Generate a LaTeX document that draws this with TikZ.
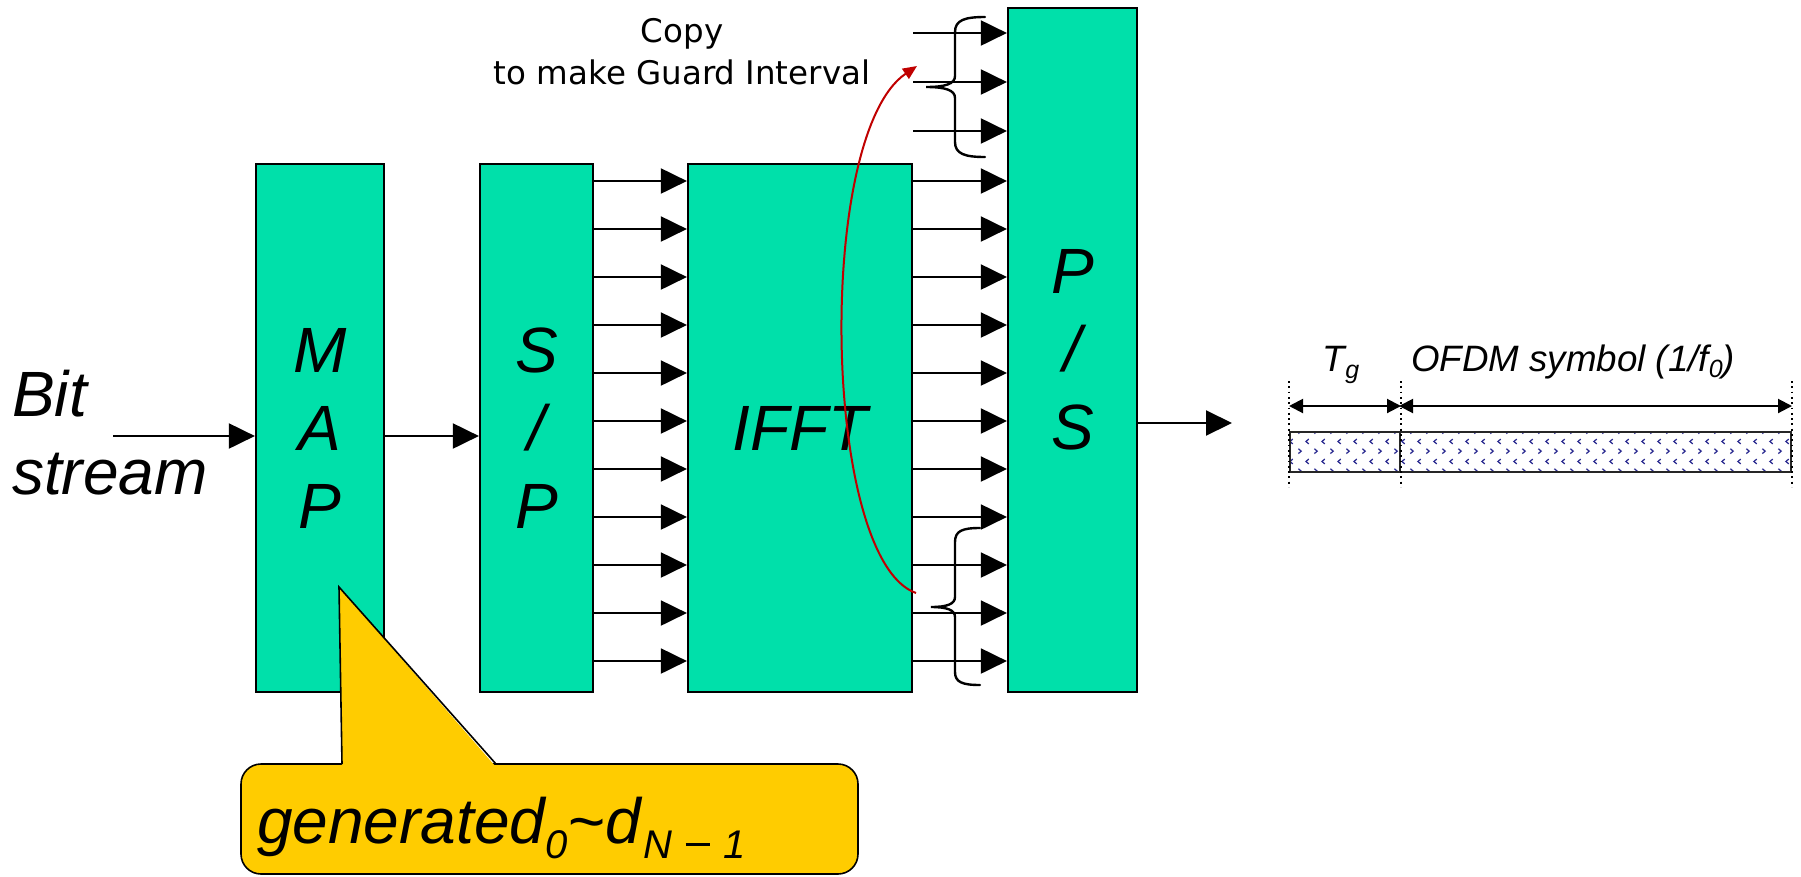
\documentclass[tikz,border=0pt]{standalone}
\usepackage{fontspec}
\setmainfont{Liberation Sans}
\newfontfamily\tahomalike{DejaVu Sans}
\usetikzlibrary{arrows.meta,patterns.meta}
\definecolor{boxgreen}{HTML}{00E0AA}
\definecolor{calloutyellow}{HTML}{FFCC00}
\definecolor{guardred}{HTML}{C00000}
\definecolor{patblue}{HTML}{2B2B90}
\newcommand\mysubA[3]{\raisebox{-#2}{\fontsize{#1}{#1}\selectfont #3}}
\tikzdeclarepattern{
  name=chevrons,
  type=uncolored,
  bounding box={(0pt,0pt) and (16pt,20pt)},
  tile size={(16pt,20pt)},
  code={
    \draw[line width=1.3pt] (2.5pt,2.5pt) -- (5.5pt,5pt) -- (2.5pt,7.5pt);
    \draw[line width=1.3pt] (13.5pt,12.5pt) -- (10.5pt,15pt) -- (13.5pt,17.5pt);
  }
}
\begin{document}
\begin{tikzpicture}[x=1pt,y=-1pt,
  block/.style={draw=black, line width=2.2pt, fill=boxgreen, inner sep=0pt,
    font=\fontsize{64}{78}\selectfont\itshape, align=center},
  arr/.style={line width=2pt, -{Triangle[length=26pt,width=25pt]}},
  bracestyle/.style={line width=2.4pt, line cap=round},
  guard/.style={draw=guardred, line width=2pt, -{Triangle[length=14pt,width=12pt]}},
  tbox/.style={draw=black!85, line width=2pt, pattern=chevrons, pattern color=patblue, inner sep=0pt},
  dotline/.style={line width=1.8pt, dash pattern=on 1.8pt off 3.5pt},
  dim/.style={line width=2pt, {Triangle[length=14pt,width=14pt]}-{Triangle[length=14pt,width=14pt]}},
  bigtext/.style={font=\fontsize{64}{78}\selectfont\itshape, inner sep=0pt},
  smalltext/.style={font=\fontsize{36.7}{36.7}\selectfont\itshape, inner sep=0pt}
]
\useasboundingbox (0,0) rectangle (1801,876);

% blocks
\node[block, minimum width=128pt, minimum height=528pt] (map) at (320,428) {M\\A\\P};
\node[block, minimum width=113pt, minimum height=528pt] (sp) at (536.5,428) {S\\/\\P};
\node[block, minimum width=224pt, minimum height=528pt] (ifft) at (800,428) {IFFT};
\node[block, minimum width=129pt, minimum height=684pt] (ps) at (1072.5,350) {P\\/\\S};

% input
\node[bigtext, anchor=west, align=left] (bits) at (12,433) {Bit\\stream};
\coordinate (bitin) at (113,436);
\draw[arr] (bitin) -- (map.west |- bitin);
\draw[arr] (map.east |- 0,436) -- (sp.west |- 0,436);

% parallel lines
\foreach \y in {181,229,...,661} \draw[arr] (sp.east |- 0,\y) -- (ifft.west |- 0,\y);
\foreach \y in {33,82,131} \draw[arr] (ifft.east |- 0,\y) -- (ps.west |- 0,\y);
\foreach \y in {181,229,...,661} \draw[arr] (ifft.east |- 0,\y) -- (ps.west |- 0,\y);

% output
\coordinate (out) at (1232,423);
\draw[arr] (ps.east |- out) -- (out);

% braces
\draw[bracestyle] (985,17) .. controls (965,17) and (955,20) .. (955,32) -- (955,76)
  .. controls (955,84) and (945,87) .. (926,87)
  .. controls (945,87) and (955,90) .. (955,98) -- (955,142)
  .. controls (955,154) and (965,157) .. (985,157);
\draw[bracestyle] (980,528) .. controls (962,528) and (955,531) .. (955,542) -- (955,597)
  .. controls (955,604) and (947,607) .. (931,607)
  .. controls (947,607) and (955,610) .. (955,617) -- (955,672)
  .. controls (955,682) and (962,685) .. (980,685);

% copy label
\node[font=\tahomalike\fontsize{32.5}{42}\selectfont, align=center, inner sep=0pt] (copy) at (682,52) {Copy\\to make Guard Interval};

% red guard-interval curve
\coordinate (gstart) at (916,593);
\coordinate (gend) at (917,66);
\draw[guard] (gstart) .. controls (822,560) and (815,135) .. (gend);

% callout
\node[draw=black, line width=1.6pt, fill=calloutyellow, rounded corners=20pt,
  minimum width=617pt, minimum height=110pt, inner sep=0pt] (callout) at (549.5,819) {};
\coordinate (tip) at (339,587);
\fill[calloutyellow] (342,767) -- (tip) -- (496,767) -- cycle;
\draw[line width=1.6pt, line join=miter] (342,764) -- (tip) -- (496,764);
\node[bigtext, anchor=base west] (gen) at (257,843)
  {generated\mysubA{40}{15pt}{0}\textasciitilde d\mysubA{40}{15pt}{\hspace{3pt}N\hspace{13pt}\rule[0.3em]{0.62em}{0.07em}\hspace{13pt}1}};

% timing diagram
\node[tbox, minimum width=110pt, minimum height=40pt] (tg) at (1345,452) {};
\node[tbox, minimum width=391pt, minimum height=40pt] (sym) at (1595.5,452) {};
\draw[dotline] (tg.west |- 0,381) -- (tg.west |- 0,487);
\draw[dotline] (tg.east |- 0,381) -- (tg.east |- 0,487);
\draw[dotline] (sym.east |- 0,381) -- (sym.east |- 0,487);
\draw[dim] (tg.west |- 0,406) -- (tg.east |- 0,406);
\draw[dim] (sym.west |- 0,406) -- (sym.east |- 0,406);
\node[smalltext, anchor=base] (tglabel) at (1341,371) {T\mysubA{25}{7pt}{g}};
\node[smalltext, anchor=base west] (ofdm) at (1411,371) {OFDM symbol (1/f\mysubA{25}{6pt}{0})};
\end{tikzpicture}
\end{document}
